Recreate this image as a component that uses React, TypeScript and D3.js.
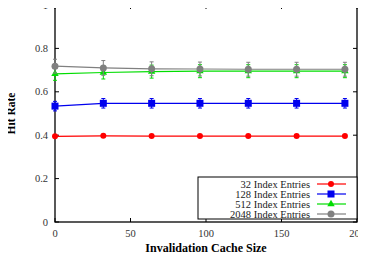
import * as d3 from 'd3';

const cacheSizes = [0, 32, 64, 96, 128, 160, 192];
const seriesNames = ['32 Index Entries', '128 Index Entries', '512 Index Entries', '2048 Index Entries'];
const seriesColors = ['#ff0000', '#0000ee', '#00dd00', '#808080'];
const hit32 = [0.395, 0.397, 0.396, 0.396, 0.396, 0.396, 0.396];
const hit128 = [0.534, 0.547, 0.547, 0.547, 0.547, 0.547, 0.547];
const hit512 = [0.683, 0.689, 0.693, 0.695, 0.695, 0.695, 0.695];
const hit2048 = [0.718, 0.710, 0.706, 0.705, 0.704, 0.704, 0.704];
const err32 = [0.004, 0.004, 0.004, 0.004, 0.004, 0.004, 0.004];
const err128 = [0.022, 0.022, 0.022, 0.022, 0.022, 0.022, 0.022];
const err512 = [0.03, 0.03, 0.03, 0.03, 0.03, 0.03, 0.03];
const err2048 = [0.032, 0.034, 0.032, 0.032, 0.032, 0.032, 0.032];
const xTicks = [0, 50, 100, 150, 200];
const yTicks = [0, 0.2, 0.4, 0.6, 0.8, 1];

const FONT = "'Liberation Serif', 'Times New Roman', 'DejaVu Serif', serif";
const W = 366, H = 261;
const m = { left: 55, right: 9, top: 5, bottom: 39 };

function Marker({ i, cx, cy }: { i: number; cx: number; cy: number }) {
  const c = seriesColors[i];
  if (i === 0) return <circle cx={cx} cy={cy} r={3} fill={c} />;
  if (i === 1) return <rect x={cx - 3.5} y={cy - 3.5} width={7} height={7} fill={c} />;
  if (i === 2) return <path d={d3.symbol(d3.symbolTriangle, 24)() || ''} transform={`translate(${cx},${cy})`} fill={c} />;
  return <circle cx={cx} cy={cy} r={3.5} fill={c} />;
}

export default function App() {
  const x = d3.scaleLinear().domain([0, 200]).range([m.left, W - m.right]);
  const y = d3.scaleLinear().domain([0, 1]).range([H - m.bottom, m.top]);
  const values = [hit32, hit128, hit512, hit2048];
  const errs = [err32, err128, err512, err2048];
  const line = d3.line<number>().x((_, j) => x(cacheSizes[j])).y(d => y(d));
  const lx0 = 198, ly0 = 177;

  return (
    <div style={{ margin: -8 }}>
      <svg width={W} height={H} style={{ display: 'block', background: '#fff', fontFamily: FONT }}>
        <rect x={x(0)} y={y(1)} width={x(200) - x(0)} height={y(0) - y(1)} fill="none" stroke="#000" strokeWidth={1.3} />
        {xTicks.map(t => (
          <g key={'x' + t}>
            <line x1={x(t)} x2={x(t)} y1={y(0)} y2={y(0) - 4} stroke="#000" />
            <line x1={x(t)} x2={x(t)} y1={y(1)} y2={y(1) + 4} stroke="#000" />
            <text x={x(t)} y={y(0) + 15} textAnchor="middle" fontSize={10.5} fill="#333">{t}</text>
          </g>
        ))}
        {yTicks.map(t => (
          <g key={'y' + t}>
            <line x1={x(0)} x2={x(0) + 4} y1={y(t)} y2={y(t)} stroke="#000" />
            <line x1={x(200)} x2={x(200) - 4} y1={y(t)} y2={y(t)} stroke="#000" />
            <text x={x(0) - 7} y={y(t) + 3.5} textAnchor="end" fontSize={10.5} fill="#333">{t}</text>
          </g>
        ))}
        <text x={(x(0) + x(200)) / 2} y={H - 9} textAnchor="middle" fontSize={12} fontWeight="bold">Invalidation Cache Size</text>
        <text transform={`translate(15,${(y(0) + y(1)) / 2}) rotate(-90)`} textAnchor="middle" fontSize={11.5} fontWeight="bold">Hit Rate</text>

        {values.map((vals, i) => (
          <g key={'s' + i}>
            <path d={line(vals) || ''} fill="none" stroke={seriesColors[i]} strokeWidth={1.2} />
            {vals.map((v, j) => {
              const cx = x(cacheSizes[j]);
              const e = errs[i][j];
              return (
                <g key={j} stroke={seriesColors[i]} strokeWidth={1}>
                  <line x1={cx} x2={cx} y1={y(v - e)} y2={y(v + e)} />
                  <line x1={cx - 2} x2={cx + 2} y1={y(v - e)} y2={y(v - e)} />
                  <line x1={cx - 2} x2={cx + 2} y1={y(v + e)} y2={y(v + e)} />
                </g>
              );
            })}
            {vals.map((v, j) => <Marker key={'m' + j} i={i} cx={x(cacheSizes[j])} cy={y(v)} />)}
          </g>
        ))}

        <rect x={lx0} y={ly0} width={x(200) - lx0} height={42} fill="#fff" stroke="#000" strokeWidth={1} />
        {seriesNames.map((name, i) => {
          const ly = ly0 + 7 + i * 10;
          return (
            <g key={name}>
              <text x={310} y={ly + 3.5} textAnchor="end" fontSize={10.5} fill="#222">{name}</text>
              <line x1={317} x2={346} y1={ly} y2={ly} stroke={seriesColors[i]} strokeWidth={1.2} />
              <Marker i={i} cx={331} cy={ly} />
            </g>
          );
        })}
      </svg>
    </div>
  );
}
